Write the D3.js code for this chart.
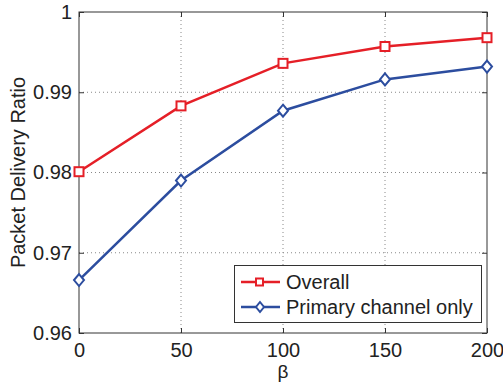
<!DOCTYPE html>
<html>
<head>
<meta charset="utf-8">
<script src="https://cdn.jsdelivr.net/npm/d3@7"></script>
<style>
  body { margin: 0; background: #fff; }
  text { font-family: "Liberation Sans", Arial, sans-serif; fill: #222; }
</style>
</head>
<body>
<div class="chart"></div>
<script>
"use strict";

var betaValues = [0, 50, 100, 150, 200];
var overall = [0.9801, 0.9883, 0.9936, 0.9957, 0.9968];
var primaryOnly = [0.9666, 0.9790, 0.9877, 0.9916, 0.9932];
var xTicks = [0, 50, 100, 150, 200];
var yTicks = [0.96, 0.97, 0.98, 0.99, 1];
var seriesNames = ["Overall", "Primary channel only"];

var width = 503,
    height = 385;

var margin = {left: 79, right: 16, top: 12, bottom: 52};

var svg = d3.select(".chart")
    .append("svg")
    .attr("width", width)
    .attr("height", height);

var x = d3.scaleLinear()
    .domain([0, 200])
    .range([margin.left, width - margin.right]);

var y = d3.scaleLinear()
    .domain([0.96, 1])
    .range([height - margin.bottom, margin.top]);

var red = "#e51f27",
    blue = "#2c4d9f";

// grid
svg.append("g")
    .selectAll("line")
    .data(xTicks.slice(1, -1))
    .enter().append("line")
        .attr("x1", function(d){ return x(d); })
        .attr("x2", function(d){ return x(d); })
        .attr("y1", y(1))
        .attr("y2", y(0.96))
        .style("stroke", "#888")
        .style("stroke-width", 1)
        .style("stroke-dasharray", "1,3");

svg.append("g")
    .selectAll("line")
    .data(yTicks.slice(1, -1))
    .enter().append("line")
        .attr("x1", x(0))
        .attr("x2", x(200))
        .attr("y1", function(d){ return y(d); })
        .attr("y2", function(d){ return y(d); })
        .style("stroke", "#888")
        .style("stroke-width", 1)
        .style("stroke-dasharray", "1,3");

// frame
svg.append("rect")
    .attr("x", x(0))
    .attr("y", y(1))
    .attr("width", x(200) - x(0))
    .attr("height", y(0.96) - y(1))
    .style("fill", "none")
    .style("stroke", "#333")
    .style("stroke-width", 1);

// axes with inward ticks (MATLAB style)
var xAxis = svg.append("g")
    .attr("transform", "translate(0," + y(0.96) + ")")
    .call(d3.axisBottom(x).tickValues(xTicks).tickSizeInner(-5).tickSizeOuter(0).tickPadding(10)
        .tickFormat(d3.format("d")));

var xAxisTop = svg.append("g")
    .attr("transform", "translate(0," + y(1) + ")")
    .call(d3.axisTop(x).tickValues(xTicks).tickSizeInner(-5).tickSizeOuter(0).tickFormat(""));

var yAxis = svg.append("g")
    .attr("transform", "translate(" + x(0) + ",0)")
    .call(d3.axisLeft(y).tickValues(yTicks).tickSizeInner(-5).tickSizeOuter(0).tickPadding(7)
        .tickFormat(function(d){ return d === 1 ? "1" : d3.format(".2f")(d); }));

var yAxisRight = svg.append("g")
    .attr("transform", "translate(" + x(200) + ",0)")
    .call(d3.axisRight(y).tickValues(yTicks).tickSizeInner(-5).tickSizeOuter(0).tickFormat(""));

svg.selectAll(".domain").remove();
svg.selectAll(".tick line").style("stroke", "#333");
svg.selectAll(".tick text")
    .style("font-size", "20px")
    .style("fill", "#222")
    .style("font-family", "'Liberation Sans', Arial, sans-serif");

// axis labels
svg.append("text")
    .attr("x", x(100))
    .attr("y", 378)
    .attr("text-anchor", "middle")
    .style("font-size", "19px")
    .text("β");

svg.append("text")
    .attr("transform", "translate(25," + ((y(1) + y(0.96)) / 2) + ") rotate(-90)")
    .attr("text-anchor", "middle")
    .style("font-size", "20px")
    .text("Packet Delivery Ratio");

var line = d3.line()
    .x(function(d, i){ return x(betaValues[i]); })
    .y(function(d){ return y(d); });

// Overall
svg.append("path")
    .datum(overall)
    .attr("d", line)
    .style("fill", "none")
    .style("stroke", red)
    .style("stroke-width", 2.5);

svg.append("g")
    .selectAll("rect")
    .data(overall)
    .enter().append("rect")
        .attr("x", function(d, i){ return x(betaValues[i]) - 4.5; })
        .attr("y", function(d){ return y(d) - 4.5; })
        .attr("width", 9)
        .attr("height", 9)
        .style("fill", "#fff")
        .style("stroke", red)
        .style("stroke-width", 2);

// Primary channel only
svg.append("path")
    .datum(primaryOnly)
    .attr("d", line)
    .style("fill", "none")
    .style("stroke", blue)
    .style("stroke-width", 2.5);

var diamond = "M0,-6L5,0L0,6L-5,0Z";

svg.append("g")
    .selectAll("path")
    .data(primaryOnly)
    .enter().append("path")
        .attr("d", diamond)
        .attr("transform", function(d, i){ return "translate(" + x(betaValues[i]) + "," + y(d) + ")"; })
        .style("fill", "#fff")
        .style("stroke", blue)
        .style("stroke-width", 2);

// legend
var legend = svg.append("g");

legend.append("rect")
    .attr("x", 234.5)
    .attr("y", 265.5)
    .attr("width", 247)
    .attr("height", 57)
    .style("fill", "#fff")
    .style("stroke", "#333")
    .style("stroke-width", 1);

var legendRows = [282, 307];
var colors = [red, blue];

legendRows.forEach(function(ly, i){
    legend.append("line")
        .attr("x1", 241).attr("x2", 280)
        .attr("y1", ly).attr("y2", ly)
        .style("stroke", colors[i])
        .style("stroke-width", 2.5);
    if (i === 0) {
        legend.append("rect")
            .attr("x", 256).attr("y", ly - 3.5)
            .attr("width", 7).attr("height", 7)
            .style("fill", "#fff")
            .style("stroke", red)
            .style("stroke-width", 2);
    } else {
        legend.append("path")
            .attr("d", "M0,-5L4,0L0,5L-4,0Z")
            .attr("transform", "translate(260," + ly + ")")
            .style("fill", "#fff")
            .style("stroke", blue)
            .style("stroke-width", 2);
    }
    legend.append("text")
        .attr("x", 286)
        .attr("y", ly + 7)
        .style("font-size", "20px")
        .text(seriesNames[i]);
});
</script>
</body>
</html>
